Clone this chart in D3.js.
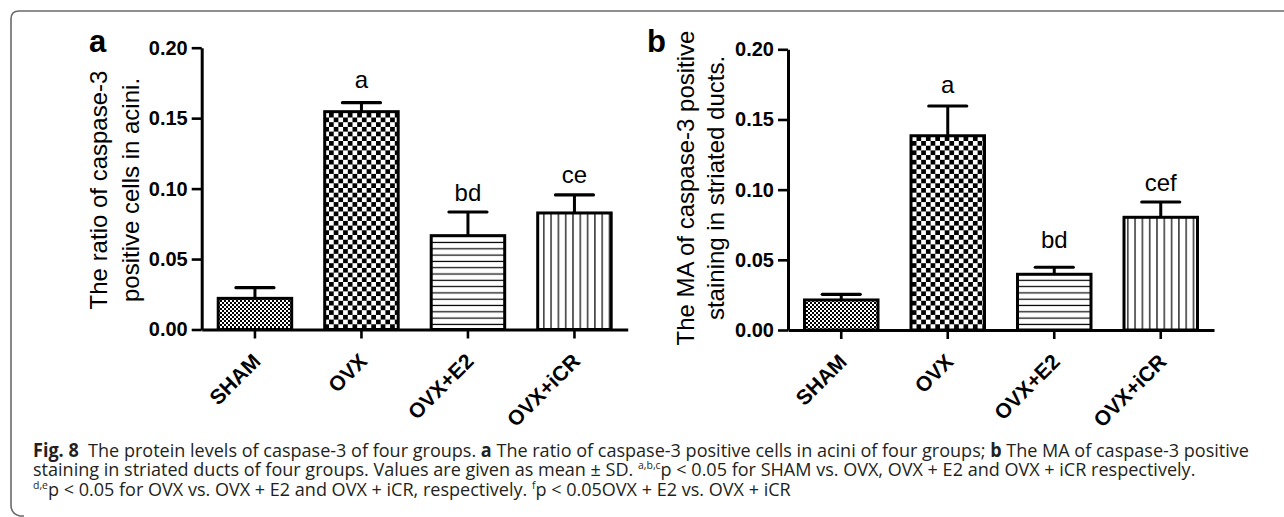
<!DOCTYPE html>
<html>
<head>
<meta charset="utf-8">
<script src="https://cdn.jsdelivr.net/npm/d3@7"></script>
<style>
  html, body { margin: 0; padding: 0; background: #fff; }
  svg { display: block; }
  text { white-space: pre; }
</style>
</head>
<body>
<svg id="chart" width="1284" height="517"></svg>
<script>
// ---------------- DATA ----------------
const categories = ["SHAM", "OVX", "OVX+E2", "OVX+iCR"];
const yTicks = [0, 0.05, 0.10, 0.15, 0.20];

// Panel a: ratio of caspase-3 positive cells in acini
const acinMean = [0.0221, 0.1546, 0.0666, 0.0827];
const acinSD   = [0.0076, 0.0064, 0.0168, 0.0128];
const acinLetters = ["", "a", "bd", "ce"];
const acinLetterY = [0, 0.1712, 0.0912, 0.1038];

// Panel b: MA of caspase-3 positive staining in striated ducts
const ductMean = [0.0214, 0.1384, 0.0397, 0.0803];
const ductSD   = [0.0040, 0.0212, 0.0050, 0.0109];
const ductLetters = ["", "a", "bd", "cef"];
const ductLetterY = [0, 0.1687, 0.0582, 0.0990];

const patternIds = ["p-sham", "p-ovx", "p-e2", "p-icr"];

// ---------------- SETUP ----------------
const svg = d3.select("#chart");
const FONT = "'Liberation Sans', Arial, Helvetica, sans-serif";

// frame
svg.append("path")
  .attr("d", "M1284,11 H19 Q11,11 11,19 V505 Q11,514 20,516 H24")
  .attr("fill", "none").attr("stroke", "#6a6a6a").attr("stroke-width", 1.6);

// patterns
const defs = svg.append("defs");
{
  const p = defs.append("pattern").attr("id", "p-sham").attr("patternUnits", "userSpaceOnUse")
    .attr("width", 4).attr("height", 4);
  p.append("rect").attr("width", 4).attr("height", 4).attr("fill", "#fff");
  p.append("rect").attr("x", 0).attr("y", 0).attr("width", 2).attr("height", 2).attr("fill", "#000");
  p.append("rect").attr("x", 2).attr("y", 2).attr("width", 2).attr("height", 2).attr("fill", "#000");
}
{
  const s = 9.4, h = s / 2;
  const p = defs.append("pattern").attr("id", "p-ovx").attr("patternUnits", "userSpaceOnUse")
    .attr("width", s).attr("height", s);
  p.append("rect").attr("width", s).attr("height", s).attr("fill", "#fff");
  p.append("rect").attr("x", 0).attr("y", 0).attr("width", h).attr("height", h).attr("fill", "#000");
  p.append("rect").attr("x", h).attr("y", h).attr("width", h).attr("height", h).attr("fill", "#000");
}
{
  const s = 6.3;
  const p = defs.append("pattern").attr("id", "p-e2").attr("patternUnits", "userSpaceOnUse")
    .attr("width", 10).attr("height", s);
  p.append("rect").attr("width", 10).attr("height", s).attr("fill", "#fff");
  p.append("rect").attr("x", 0).attr("y", 2.5).attr("width", 10).attr("height", 1.2).attr("fill", "#000");
}
{
  const s = 7.3;
  const p = defs.append("pattern").attr("id", "p-icr").attr("patternUnits", "userSpaceOnUse")
    .attr("width", s).attr("height", 10);
  p.append("rect").attr("width", s).attr("height", 10).attr("fill", "#fff");
  p.append("rect").attr("x", 3).attr("y", 0).attr("width", 1.2).attr("height", 10).attr("fill", "#000");
}

// ---------------- PANEL ----------------
function drawPanel(cfg) {
  const g = svg.append("g");
  const x = d3.scaleBand().domain(categories)
    .range([cfg.x0, cfg.x0 + 426]).paddingInner(0.31).paddingOuter(0.155);
  const y = d3.scaleLinear().domain([0, 0.2]).range([cfg.yBottom, cfg.yTop]);

  // y axis
  const ya = g.append("g").attr("transform", `translate(${cfg.x0},0)`)
    .call(d3.axisLeft(y).tickValues(yTicks).tickFormat(d3.format(".2f")).tickSize(10).tickSizeOuter(0).tickPadding(4));
  ya.select(".domain").attr("stroke", "#000").attr("stroke-width", 3);
  ya.selectAll(".tick line").attr("stroke", "#000").attr("stroke-width", 2.6);
  ya.selectAll(".tick text").attr("font-family", FONT).attr("font-weight", "bold")
    .attr("font-size", 20).attr("fill", "#000");

  // bars
  const data = categories.map((c, i) => ({ c, m: cfg.mean[i], sd: cfg.sd[i], lab: cfg.letters[i], ly: cfg.letterY[i], pat: patternIds[i] }));
  g.selectAll("rect.bar").data(data).join("rect").attr("class", "bar")
    .attr("x", d => x(d.c)).attr("width", x.bandwidth())
    .attr("y", d => y(d.m)).attr("height", d => y(0) - y(d.m))
    .attr("fill", d => `url(#${d.pat})`).attr("stroke", "#000").attr("stroke-width", 3);

  // error bars
  const cx = d => x(d.c) + x.bandwidth() / 2;
  g.selectAll("line.err").data(data).join("line").attr("class", "err")
    .attr("x1", cx).attr("x2", cx)
    .attr("y1", d => y(d.m)).attr("y2", d => y(d.m + d.sd))
    .attr("stroke", "#000").attr("stroke-width", 3);
  g.selectAll("line.cap").data(data).join("line").attr("class", "cap")
    .attr("x1", d => cx(d) - 19).attr("x2", d => cx(d) + 19)
    .attr("y1", d => y(d.m + d.sd)).attr("y2", d => y(d.m + d.sd))
    .attr("stroke", "#000").attr("stroke-width", 3.2).attr("stroke-linecap", "round");

  // significance letters
  g.selectAll("text.sig").data(data.filter(d => d.lab)).join("text").attr("class", "sig")
    .attr("x", cx).attr("y", d => y(d.ly))
    .attr("text-anchor", "middle").attr("font-family", FONT).attr("font-size", 24)
    .text(d => d.lab);

  // x axis
  const xa = g.append("g").attr("transform", `translate(0,${cfg.yBottom})`)
    .call(d3.axisBottom(x).tickSize(9).tickSizeOuter(0).tickFormat(""));
  xa.select(".domain").attr("stroke", "#000").attr("stroke-width", 3);
  xa.selectAll(".tick line").attr("stroke", "#000").attr("stroke-width", 2.6);

  // rotated category labels
  g.selectAll("text.cat").data(categories).join("text").attr("class", "cat")
    .attr("transform", d => `translate(${x(d) + x.bandwidth() / 2 + 7},${cfg.yBottom + 33}) rotate(-45)`)
    .attr("text-anchor", "end").attr("font-family", FONT).attr("font-weight", "bold")
    .attr("font-size", 21).text(d => d);

  // y title (two lines)
  cfg.title.forEach((t, i) => {
    g.append("text")
      .attr("transform", `translate(${cfg.titleX[i]},${cfg.titleCY}) rotate(-90)`)
      .attr("text-anchor", "middle").attr("font-family", FONT).attr("font-size", 24)
      .text(t);
  });

  // panel letter
  g.append("text").attr("x", cfg.letterPos[0]).attr("y", cfg.letterPos[1])
    .attr("font-family", FONT).attr("font-weight", "bold").attr("font-size", 31)
    .text(cfg.panel);
}

drawPanel({
  panel: "a", letterPos: [89, 52],
  x0: 201.7, yBottom: 329.5, yTop: 47.7,
  mean: acinMean, sd: acinSD, letters: acinLetters, letterY: acinLetterY,
  title: ["The ratio of caspase-3", "positive cells in acini."],
  titleX: [107, 138.5], titleCY: 190
});
drawPanel({
  panel: "b", letterPos: [647, 52],
  x0: 788, yBottom: 330, yTop: 49.3,
  mean: ductMean, sd: ductSD, letters: ductLetters, letterY: ductLetterY,
  title: ["The MA of caspase-3 positive", "staining in striated ducts."],
  titleX: [694, 724], titleCY: 188
});

// ---------------- CAPTION ----------------
const CAPFONT = "'Open Sans', 'Noto Sans', sans-serif";
const captionLines = [
  [["Fig. 8", "b"], ["  The protein levels of caspase-3 of four groups. ", "n"], ["a", "b"],
   [" The ratio of caspase-3 positive cells in acini of four groups; ", "n"], ["b", "b"],
   [" The MA of caspase-3 positive", "n"]],
  [["staining in striated ducts of four groups. Values are given as mean ± SD. ", "n"], ["a,b,c", "s"],
   ["p < 0.05 for SHAM vs. OVX, OVX + E2 and OVX + iCR respectively.", "n"]],
  [["d,e", "s"], ["p < 0.05 for OVX vs. OVX + E2 and OVX + iCR, respectively. ", "n"], ["f", "s"],
   ["p < 0.05OVX + E2 vs. OVX + iCR", "n"]]
];
const capY = [457, 476.3, 495.6];
const capGroups = captionLines.map((parts, li) => {
  const cg = svg.append("g");
  const t = cg.append("text").attr("x", 0).attr("y", 0)
    .attr("font-family", CAPFONT).attr("font-size", 19).attr("fill", "#231f20");
  let raised = false;
  parts.forEach(([s, k]) => {
    const ts = t.append("tspan").text(s);
    if (k === "b") ts.attr("font-weight", "bold");
    if (k === "s") { ts.attr("font-size", 11).attr("dy", -7); raised = true; }
    else if (raised) { ts.attr("dy", 7); raised = false; }
  });
  return cg;
});
const w0 = capGroups[0].node().getBBox().width;
const sx = 1217 / w0;
capGroups.forEach((cg, i) => cg.attr("transform", `translate(33,${capY[i]}) scale(${sx},1)`));
</script>
</body>
</html>
